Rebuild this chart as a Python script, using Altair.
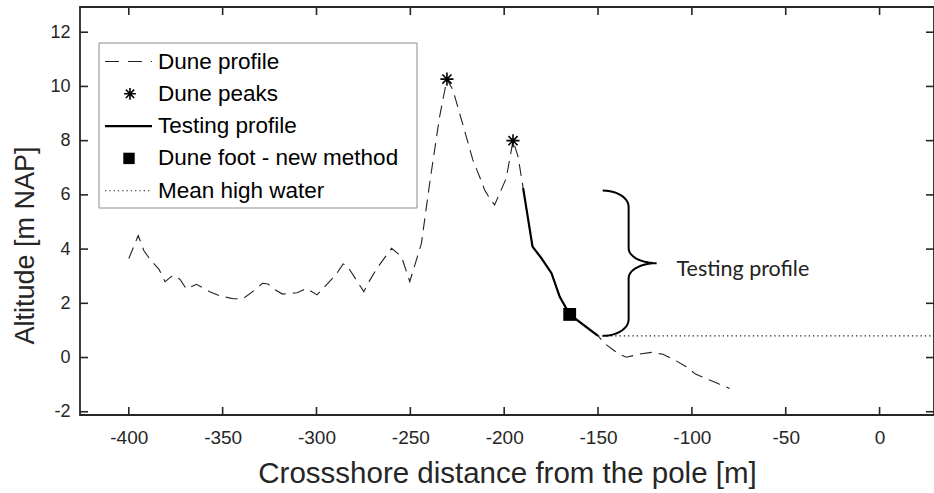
import altair as alt
import numpy as np
import pandas as pd

# ---- data ---------------------------------------------------------------
profile_x = [-400, -395, -392, -389.2, -383.9, -380.7, -376.3, -372.8, -369.3, -364.0,
             -356.9, -351.3, -344.4, -339.1, -332.9, -328.8, -325.8, -322.6, -318.1, -310.3,
             -305.4, -299.7, -295.1, -289.4, -285.8, -283.9, -274.8, -272.0, -268.0, -260.0,
             -254.7, -250.3, -244.1, -239.7, -234.4, -230.5, -227.3, -220.2, -216.7, -213.1,
             -210.4, -207.7, -205.1, -198.9, -195.3, -192.6, -189.9, -184.9, -180.1, -174.8,
             -170.4, -165.1, -150.0, -146.5, -139.4, -134.9, -127.8, -121.6, -115.4, -109.2,
             -103.0, -98.1, -90.5, -85.2, -79.9]
profile_y = [3.65, 4.50, 3.95, 3.67, 3.25, 2.80, 3.04, 2.89, 2.53, 2.70,
             2.43, 2.27, 2.17, 2.17, 2.49, 2.74, 2.71, 2.52, 2.34, 2.39,
             2.55, 2.31, 2.65, 3.08, 3.45, 3.41, 2.43, 2.80, 3.27, 4.03,
             3.72, 2.80, 4.21, 6.43, 8.89, 10.27, 9.87, 8.15, 7.29, 6.67,
             6.18, 5.87, 5.63, 6.61, 8.00, 7.41, 6.25, 4.09, 3.66, 3.11,
             2.24, 1.59, 0.80, 0.52, 0.15, 0.01, 0.13, 0.19, 0.12, -0.09,
             -0.34, -0.61, -0.83, -0.99, -1.14]

testing_start, testing_end = -189.9, -150.0
peaks_x = [-230.5, -195.3]
peaks_y = [10.27, 8.00]
foot_x = [-165.1]
foot_y = [1.59]
mhw_level = 0.80
mhw_start = -150.0

brace_bottom, brace_top = 0.80, 6.16
brace_arm_x, brace_stem_x, brace_tip_x = -147.5, -133.7, -118.8
brace_label = "Testing profile"
brace_label_x, brace_label_y = -108.2, 3.0

x_ticks = list(range(-400, 1, 50))
y_ticks = list(range(-2, 13, 2))
x_domain = [-426, 29]
y_domain = [-2.12, 12.93]

legend_labels = ["Dune profile", "Dune peaks", "Testing profile",
                 "Dune foot - new method", "Mean high water"]

x_title = "Crossshore distance from the pole [m]"
y_title = "Altitude [m NAP]"

# ---- layout -------------------------------------------------------------
W, H = 854, 408
INK = "#262626"
FONT = "Liberation Sans"
# plain hyphen for negative tick labels
HYPHEN_LABEL = "datum.value < 0 ? '-' + abs(datum.value) : '' + datum.value"

xs = alt.Scale(domain=x_domain, nice=False, zero=False)
ys = alt.Scale(domain=y_domain, nice=False, zero=False)

profile = pd.DataFrame({"x": profile_x, "y": profile_y})
profile["i"] = range(len(profile))
testing = profile[(profile.x >= testing_start) & (profile.x <= testing_end)]

x_axis = alt.Axis(values=x_ticks, ticks=False, domain=False, grid=False,
                  labelExpr=HYPHEN_LABEL,
                  labelFontSize=19, labelPadding=13, labelColor=INK, labelFont=FONT,
                  title=x_title, titleFontSize=29.5, titleFont=FONT, titleColor=INK,
                  titleFontWeight="normal", titleBaseline="alphabetic", titleY=67)
y_axis = alt.Axis(values=y_ticks, ticks=False, domain=False, grid=False,
                  labelExpr=HYPHEN_LABEL,
                  labelFontSize=18, labelPadding=10, labelColor=INK, labelFont=FONT,
                  title=y_title, titleFontSize=27, titleFont=FONT, titleColor=INK,
                  titleFontWeight="normal", titleAngle=-90, titleBaseline="alphabetic",
                  titleX=-47, titleY=238, titleAlign="center")

# dashed full profile
dune = alt.Chart(profile).mark_line(
    color="#222", strokeWidth=1.1, strokeDash=[12, 7]
).encode(
    x=alt.X("x:Q", scale=xs, axis=x_axis),
    y=alt.Y("y:Q", scale=ys, axis=y_axis),
    order="i:Q",
)

# solid testing profile
test_line = alt.Chart(testing).mark_line(color="black", strokeWidth=2.2).encode(
    x=alt.X("x:Q", scale=xs), y=alt.Y("y:Q", scale=ys), order="i:Q"
)

# mean high water
mhw = alt.Chart(pd.DataFrame({"x": [mhw_start], "y": [mhw_level]})).mark_rule(
    color="#222", strokeWidth=1.2, strokeDash=[1.3, 3]
).encode(x=alt.X("x:Q", scale=xs), x2=alt.value(W), y=alt.Y("y:Q", scale=ys))

ASTERISK = "M0,-1L0,1M-1,0L1,0M-0.7,-0.7L0.7,0.7M-0.7,0.7L0.7,-0.7"

peaks = alt.Chart(pd.DataFrame({"x": peaks_x, "y": peaks_y})).mark_point(
    shape=ASTERISK, size=170, color="black", strokeWidth=1.6, filled=False, opacity=1
).encode(x=alt.X("x:Q", scale=xs), y=alt.Y("y:Q", scale=ys))

foot = alt.Chart(pd.DataFrame({"x": foot_x, "y": foot_y})).mark_square(
    size=165, color="black", opacity=1
).encode(x=alt.X("x:Q", scale=xs), y=alt.Y("y:Q", scale=ys))


# curly brace built from quarter ellipses
def brace_path(bottom, top, arm_x, stem_x, tip_x, ry=0.6, ry_mid=0.55):
    mid = (bottom + top) / 2
    t = np.linspace(0, np.pi / 2, 12)
    rx1 = stem_x - arm_x
    rx2 = tip_x - stem_x
    # top arm: horizontal -> vertical
    a = list(zip(arm_x + rx1 * np.sin(t), top - ry + ry * np.cos(t)))
    # middle: vertical -> point
    b = list(zip(tip_x - rx2 * np.cos(t), mid + ry_mid - ry_mid * np.sin(t)))
    upper = a + b
    lower = [(px, 2 * mid - py) for px, py in reversed(upper)]
    pts = upper + lower[1:]
    return pd.DataFrame({"x": [p[0] for p in pts], "y": [p[1] for p in pts],
                         "i": range(len(pts))})


brace = alt.Chart(brace_path(brace_bottom, brace_top, brace_arm_x,
                             brace_stem_x, brace_tip_x)).mark_line(
    color="black", strokeWidth=2
).encode(x=alt.X("x:Q", scale=xs), y=alt.Y("y:Q", scale=ys), order="i:Q")

brace_text = alt.Chart(pd.DataFrame({"x": [brace_label_x], "y": [brace_label_y],
                                     "t": [brace_label]})).mark_text(
    align="left", baseline="alphabetic", font="Lato", fontSize=21.5, color="#222"
).encode(x=alt.X("x:Q", scale=xs), y=alt.Y("y:Q", scale=ys), text="t:N")

# inward ticks on all four sides
xt = pd.DataFrame({"v": x_ticks})
yt = pd.DataFrame({"v": y_ticks})
TL = 8
tick_style = dict(color=INK, strokeWidth=1.6)
ticks_bottom = alt.Chart(xt).mark_rule(**tick_style).encode(
    x=alt.X("v:Q", scale=xs), y=alt.value(H), y2=alt.value(H - TL))
ticks_top = alt.Chart(xt).mark_rule(**tick_style).encode(
    x=alt.X("v:Q", scale=xs), y=alt.value(0), y2=alt.value(TL))
ticks_left = alt.Chart(yt).mark_rule(**tick_style).encode(
    y=alt.Y("v:Q", scale=ys), x=alt.value(0), x2=alt.value(TL))
ticks_right = alt.Chart(yt).mark_rule(**tick_style).encode(
    y=alt.Y("v:Q", scale=ys), x=alt.value(W), x2=alt.value(W - TL))

# legend box
one = pd.DataFrame({"k": [0]})
LX0, LX1, LY0, LY1 = 19, 337, 36, 201
row_y = [LY0 + 18.5 + 32.3 * k for k in range(len(legend_labels))]
SYM0, SYM1, SYMC, TXT = 25, 72, 50, 78

legend_box = alt.Chart(one).mark_rect(fill="white", stroke="#8c8c8c", strokeWidth=1).encode(
    x=alt.value(LX0), x2=alt.value(LX1), y=alt.value(LY0), y2=alt.value(LY1))
legend_text = alt.Chart(pd.DataFrame({"t": legend_labels, "py": row_y})).mark_text(
    align="left", baseline="middle", font=FONT, fontSize=22.5, color="black"
).encode(x=alt.value(TXT), y=alt.Y("py:Q", scale=None), text="t:N")
leg_dash = alt.Chart(one).mark_rule(color="#222", strokeWidth=1.1, strokeDash=[14, 9]).encode(
    x=alt.value(SYM0), x2=alt.value(SYM1), y=alt.value(row_y[0]))
leg_star = alt.Chart(one).mark_point(shape=ASTERISK, size=140, color="black",
                                     strokeWidth=1.6, filled=False, opacity=1).encode(
    x=alt.value(SYMC), y=alt.value(row_y[1]))
leg_solid = alt.Chart(one).mark_rule(color="black", strokeWidth=2.2).encode(
    x=alt.value(SYM0), x2=alt.value(SYM1), y=alt.value(row_y[2]))
leg_square = alt.Chart(one).mark_square(size=130, color="black", opacity=1).encode(
    x=alt.value(SYMC - 1), y=alt.value(row_y[3]))
leg_dot = alt.Chart(one).mark_rule(color="#222", strokeWidth=1.1, strokeDash=[1.3, 3]).encode(
    x=alt.value(SYM0), x2=alt.value(SYM1), y=alt.value(row_y[4]))

chart = alt.layer(
    dune, test_line, mhw, peaks, foot, brace, brace_text,
    ticks_bottom, ticks_top, ticks_left, ticks_right,
    legend_box, legend_text, leg_dash, leg_star, leg_solid, leg_square, leg_dot,
).properties(
    width=W, height=H,
    autosize=alt.AutoSizeParams(type="none"),
    padding={"left": 80, "top": 7, "right": 0, "bottom": 78},
    background="white",
).configure_view(stroke=INK, strokeWidth=1.8)

chart.save("out.html", embed_options={"renderer": "svg", "actions": False})
